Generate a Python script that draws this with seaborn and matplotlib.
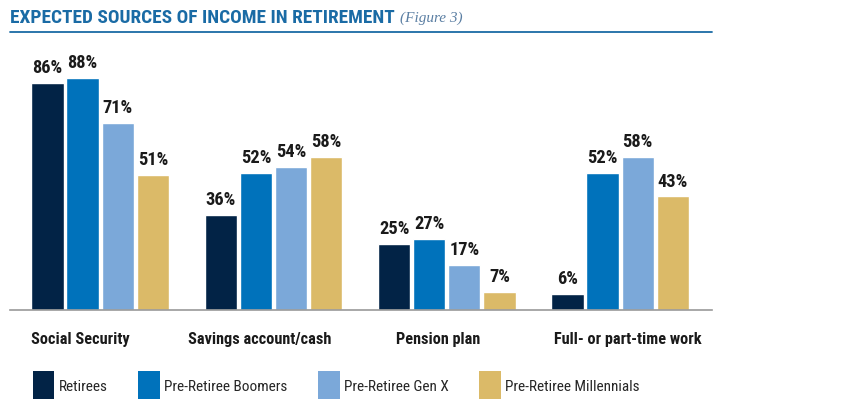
import matplotlib
matplotlib.use("Agg")
import matplotlib.pyplot as plt
import matplotlib.transforms as mtransforms
import seaborn as sns
import pandas as pd
from matplotlib.patches import Patch
from matplotlib.lines import Line2D
from matplotlib import font_manager as fm

categories = ["Social Security", "Savings account/cash", "Pension plan", "Full- or part-time work"]
series = ["Retirees", "Pre-Retiree Boomers", "Pre-Retiree Gen X", "Pre-Retiree Millennials"]
retirees = [86, 36, 25, 6]
boomers = [88, 52, 27, 52]
genx = [71, 54, 17, 58]
millennials = [51, 58, 7, 43]
colors = ["#022346", "#0072bb", "#7ba8d9", "#dbba68"]

rows = []
for s, vals in zip(series, [retirees, boomers, genx, millennials]):
    for c, v in zip(categories, vals):
        rows.append({"category": c, "series": s, "value": v})
df = pd.DataFrame(rows)

sns.set_style("white")
names = {f.name for f in fm.fontManager.ttflist}
narrow = [n for n in ["Roboto Condensed", "Liberation Sans Narrow", "Open Sans Condensed"] if n in names]
FONT = narrow + ["Roboto", "DejaVu Sans"]
plt.rcParams["font.family"] = FONT
cond = len(narrow) > 0
scale = 1.15 if cond else 1.0

fig = plt.figure(figsize=(8.54, 4.06), dpi=100)
ax = fig.add_axes([10/854, (406-311)/406, (712-10)/854, 264/406])

sns.barplot(data=df, x="category", y="value", hue="series", palette=colors,
            width=0.81, gap=0.08, saturation=1, ax=ax, legend=False, order=categories,
            hue_order=series)

for cont in ax.containers:
    ax.bar_label(cont, labels=[f"{int(v)}%" for v in cont.datavalues], padding=5,
                 fontsize=11.5 * scale, fontweight="bold", color="#1a1a1a")

ax.set_ylim(0, 100)
ax.set_xlim(-0.52, 3.53)
ax.set_xlabel("")
ax.set_ylabel("")
ax.set_yticks([])
ax.tick_params(axis="x", length=0, pad=15, labelsize=10.2 * scale)
label_shift_px = [-20, -14, -9, 8]
for lab, dx in zip(ax.get_xticklabels(), label_shift_px):
    lab.set_fontweight("bold")
    lab.set_color("#1a1a1a")
    lab.set_transform(lab.get_transform() + mtransforms.ScaledTranslation(dx / 100, 0, fig.dpi_scale_trans))
for sp in ["top", "right", "left"]:
    ax.spines[sp].set_visible(False)
ax.spines["bottom"].set_color("#9a9a9a")
ax.spines["bottom"].set_linewidth(1.2)

# Title
t1 = fig.text(10/854, 1 - 18/406, "EXPECTED SOURCES OF INCOME IN RETIREMENT", color="#1a6ba5",
              fontsize=13.95 if cond else 12.2, fontweight="bold", va="center", ha="left")
r = fig.canvas.get_renderer()
bb = t1.get_window_extent(renderer=r)
fig.text((bb.x1 + 5)/854, 1 - 18/406, "(Figure 3)", color="#5b7fa3", fontsize=11,
         fontstyle="italic", family=["Liberation Serif", "DejaVu Serif"], va="center", ha="left")
fig.add_artist(Line2D([10/854, 712/854], [1 - 33/406, 1 - 33/406], color="#1a6ba5", lw=1.3,
                      transform=fig.transFigure))

handles = [Patch(facecolor=c, edgecolor="none", label=s) for c, s in zip(colors, series)]
fig.legend(handles=handles, loc="center left", bbox_to_anchor=(33/854, 1 - 386/406), ncol=4,
           frameon=False, handlelength=1.4, handleheight=2.35, handletextpad=0.3,
           columnspacing=2.0, fontsize=11 if cond else 10.2, borderaxespad=0, borderpad=0)

fig.savefig("out.png", dpi=100)
